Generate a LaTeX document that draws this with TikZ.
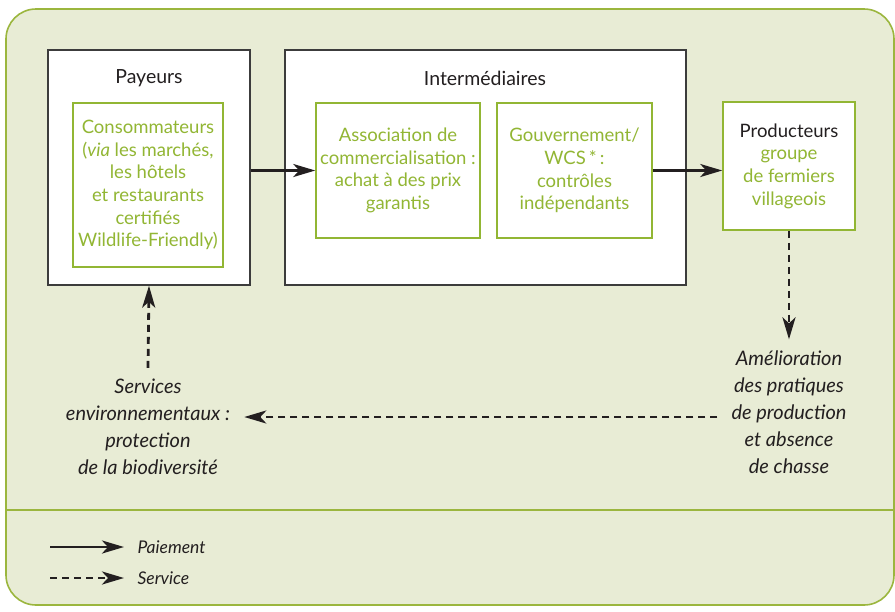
\documentclass[tikz,border=0pt]{standalone}
\usepackage{fontspec}
\setmainfont{Lato}
\usepackage{xcolor}
\usetikzlibrary{arrows.meta, positioning}
\definecolor{panelfill}{RGB}{232,236,213}
\definecolor{panelline}{RGB}{155,182,62}
\definecolor{leafgreen}{RGB}{146,182,52}
\definecolor{boxgray}{RGB}{60,60,60}
\definecolor{inkdark}{RGB}{35,31,32}
\tikzset{
    panel/.style={draw=panelline, line width=1.6pt, fill=panelfill, rounded corners=30pt},
    group/.style={rectangle, draw=boxgray, line width=1.4pt, fill=white, minimum height=235pt},
    grptitle/.style={text=inkdark, font=\fontsize{19.5}{23}\selectfont},
    actor/.style={rectangle, draw=leafgreen, line width=1.5pt, fill=white, text=leafgreen, align=center, font=\fontsize{18.5}{22.6}\selectfont},
    effect/.style={text=inkdark, align=center, inner xsep=14pt, inner ysep=11pt, font=\fontsize{20}{27}\selectfont\itshape},
    legtext/.style={text=inkdark, font=\fontsize{17.5}{20}\selectfont\itshape},
    pay/.style={-{Stealth[length=22pt,width=13pt,inset=6pt]}, line width=2.8pt, draw=inkdark},
    serv/.style={pay, dash pattern=on 7pt off 5pt}
}
\begin{document}
\begin{tikzpicture}[x=1pt, y=-1pt]
    \useasboundingbox (0,0) rectangle (895,611);
    \draw[panel] (6,9) rectangle (894,605);
    \draw[panelline, line width=1.6pt] (6,510) -- (894,510);

    % paying side
    \node (payeurs) [group, minimum width=202pt] at (149,167.5) {};
    \node (payT) [grptitle] at (149,78) {Payeurs};
    \node (conso) [actor, minimum width=150pt, minimum height=164pt] at (148,185)
        {Consommateurs\\(\textit{via} les marchés,\\les hôtels\\et restaurants\\certifiés\\Wildlife-Friendly)};

    % intermediaries
    \node (inter) [group, minimum width=401pt] at (485.5,167.5) {};
    \node (interT) [grptitle] at (485,78) {Intermédiaires};
    \node (assoc) [actor, minimum width=164pt, minimum height=135pt] at (398,170.5)
        {Association de\\commercialisation :\\achat à des prix\\garantis};
    \node (gouv) [actor, minimum width=155pt, minimum height=135pt] at (574.5,170.5)
        {Gouvernement/\\WCS\,*\,:\\contrôles\\indépendants};

    % producers
    \node (prod) [actor, minimum width=132pt, minimum height=128pt] at (789,166)
        {\textcolor{inkdark}{Producteurs}\\groupe\\de fermiers\\villageois};

    % services
    \node (amel) [effect] at (789,412)
        {Amélioration\\des pratiques\\de production\\et absence\\de chasse};
    \node (serv) [effect] at (148,427)
        {Services\\environnementaux :\\protection\\de la biodiversité};

    \draw[pay] (payeurs.east |- assoc.west) -- (assoc.west);
    \draw[pay] (gouv.east) -- (prod.west |- gouv.east);
    \draw[serv] (prod.south) -- (amel.north);
    \draw[serv] ([yshift=-5pt]amel.west) -- ([yshift=-5pt]amel.west -| serv.east);
    \draw[serv] (serv.north) -- (payeurs.south);

    % legend
    \coordinate (legPa) at (50,547);
    \coordinate (legPb) at (124,547);
    \coordinate (legSa) at (50,578);
    \coordinate (legSb) at (124,578);
    \node (legpay) [legtext, right=10pt of legPb] {Paiement};
    \node (legserv) [legtext, right=10pt of legSb] {Service};
    \draw[pay] (legPa) -- (legPb);
    \draw[serv] (legSa) -- (legSb);
\end{tikzpicture}
\end{document}
